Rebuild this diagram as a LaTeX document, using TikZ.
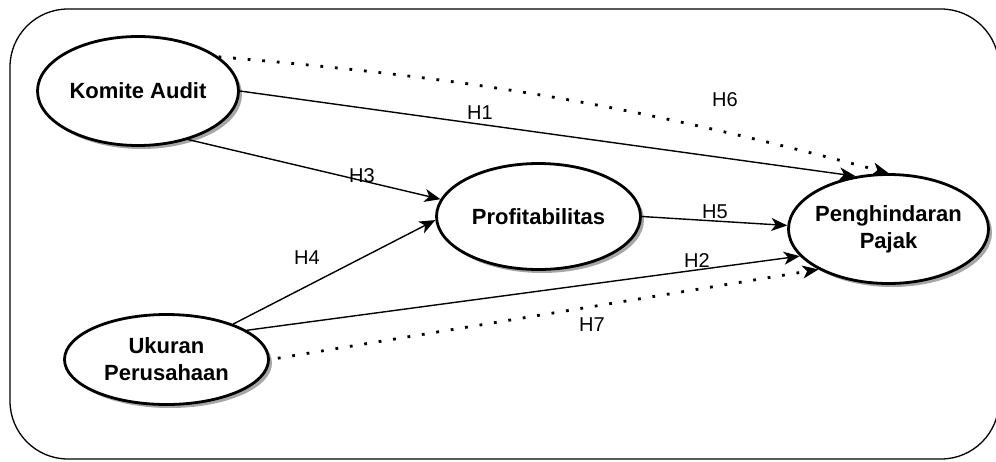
\documentclass[tikz,border=0pt]{standalone}
\usepackage{fontspec}
\setmainfont{Liberation Sans}
\usetikzlibrary{arrows.meta,shapes.geometric,shadows}

\begin{document}
\begin{tikzpicture}[x=1pt,y=-1pt,
    var/.style={ellipse,draw,line width=2.8pt,fill=white,align=center,
      inner xsep=-30pt,inner ysep=0pt,
      font=\fontsize{22}{27}\selectfont\bfseries,
      drop shadow={shadow xshift=3.5pt,shadow yshift=-3.5pt,fill=black!35,opacity=1}},
    hyp/.style={-{Stealth[length=16pt,width=13pt,inset=4.5pt]},line width=1.4pt},
    hypdot/.style={-{Stealth[length=16pt,width=13pt,inset=4.5pt,line width=1pt]},
      line width=2.8pt,dash pattern=on 2.8pt off 11.8pt},
    lbl/.style={font=\fontsize{20}{24}\selectfont}]
  \useasboundingbox (0,0) rectangle (996,461);
  \draw[line width=1.3pt,rounded corners=58pt] (10,9) rectangle (999,459);

  \node[var,minimum width=201pt,minimum height=109pt] (ka) at (138,91) {Komite Audit};
  \node[var,minimum width=204pt,minimum height=106pt] (pr) at (538.5,216.5) {Profitabilitas};
  \node[var,minimum width=200pt,minimum height=109pt] (pp) at (888.5,229) {Penghindaran\\Pajak};
  \node[var,minimum width=204pt,minimum height=90pt] (up) at (166.5,359.5) {Ukuran\\Perusahaan};

  \draw[hyp] (ka.east) -- (pp.122);
  \draw[hypdot] (ka.23) to[bend left=5] (pp.north);
  \draw[hyp] (ka.-44) -- (pr.170);
  \draw[hyp] (up.28) -- (pr.182);
  \draw[hyp] (pr.east) -- (pp.178);
  \draw[hyp] (up.20) -- (pp.197);
  \draw[hypdot,shorten <=8pt] (up.east) -- (pp.210);

  \node[lbl] (h1) at (480,113) {H1};
  \node[lbl] (h2) at (697,261) {H2};
  \node[lbl] (h3) at (362,176) {H3};
  \node[lbl] (h4) at (307,258) {H4};
  \node[lbl] (h5) at (715,212) {H5};
  \node[lbl] (h6) at (725,100) {H6};
  \node[lbl] (h7) at (592,325) {H7};
\end{tikzpicture}
\end{document}
